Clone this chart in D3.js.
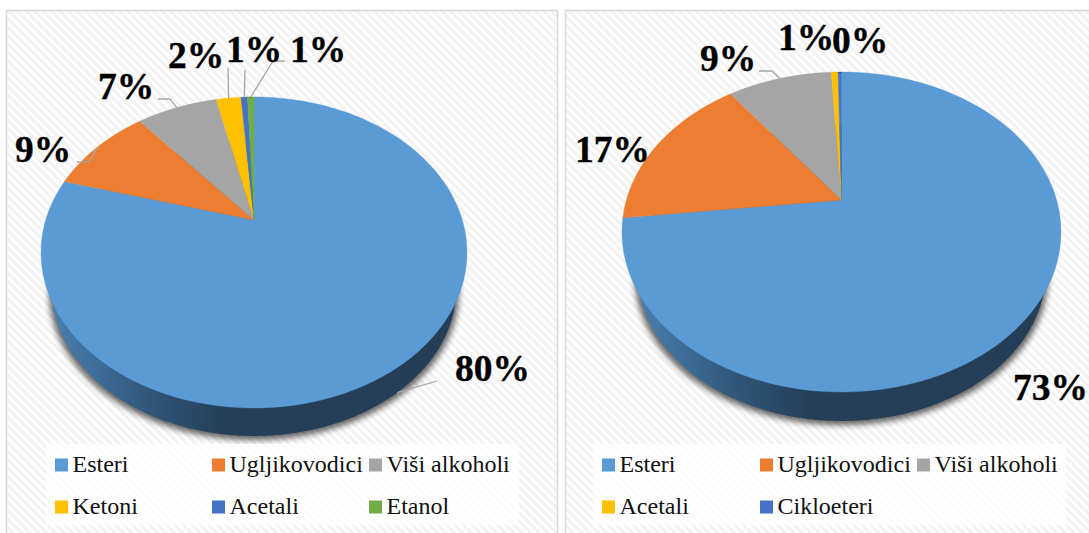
<!DOCTYPE html>
<html><head><meta charset="utf-8">
<style>html,body{margin:0;padding:0;background:#fff;overflow:hidden}svg{display:block}</style>
<script src="https://cdn.jsdelivr.net/npm/d3@7/dist/d3.min.js"></script>
</head><body><svg id="c" width="1089" height="533"></svg>
<script>
// ---- data ----
const leftCategories  = ["Esteri","Ugljikovodici","Viši alkoholi","Ketoni","Acetali","Etanol"];
const leftValues      = [79.4, 9.6, 7.5, 2.3, 0.6, 0.6];
const leftLabels      = ["80%","9%","7%","2%","1%","1%"];
const rightCategories = ["Esteri","Ugljikovodici","Viši alkoholi","Acetali","Cikloeteri"];
const rightValues     = [73.2, 16.6, 9.3, 0.6, 0.3];
const rightLabels     = ["73%","17%","9%","1%","0%"];
const leftColors  = ["#5b9bd5","#ed7d31","#a5a5a5","#ffc000","#4472c4","#70ad47"];
const rightColors = ["#5b9bd5","#ed7d31","#a5a5a5","#ffc000","#4472c4"];

// ---- layout ----
const leftLayout = {
  frame:{x:6.5,y:10.5,w:551,h:540},
  cx:254, apexY:220, top:97, bottom:408, halfW:213, wallBottom:436, wallScale:.95,
  legend:{x:46,y:444,w:473,h:81, colX:[55,212,369], rowY:[465,507]},
  labelPos:[[455,381],[15,162],[98,99],[168,68],[226,62],[290,62]],
  leaders:[[[437,381]],[[77,162],[89,162]],[[158,99],[170,99]],[[228,68]],[[245,70]],[[285,61],[273,61]]]
};
const rightLayout = {
  frame:{x:565.5,y:10.5,w:540,h:540},
  cx:841.5, apexY:200, top:72, bottom:392, halfW:219.5, wallBottom:421, wallScale:.93,
  legend:{x:593,y:444,w:473,h:81, colX:[602,760,917], rowY:[465,507]},
  labelPos:[[1013,400],[575,162],[700,71],[778,50],[832,53]],
  leaders:[null,null,[[759,71],[772,71]],null,null]
};

const svg = d3.select("#c");
const defs = svg.append("defs");
const hatch = defs.append("pattern").attr("id","hatch").attr("width",6).attr("height",6)
  .attr("patternUnits","userSpaceOnUse").attr("patternTransform","rotate(45)");
hatch.append("rect").attr("width",6).attr("height",6).attr("fill","#ffffff");
hatch.append("rect").attr("width",6).attr("height",3).attr("fill","#f3f3f3");
defs.append("filter").attr("id","blur").attr("x","-10%").attr("y","-10%").attr("width","120%").attr("height","120%")
  .append("feGaussianBlur").attr("stdDeviation",3);

function drawPanel(id, cats, vals, labels, colors, L){
  const g = svg.append("g");
  g.append("rect").attr("x",L.frame.x).attr("y",L.frame.y).attr("width",L.frame.w).attr("height",L.frame.h)
    .attr("fill","url(#hatch)").attr("stroke","#d9d9d9").attr("stroke-width",1.6);

  // perspective disc: unit circle -> ellipse whose centre is the slices' apex
  const K = -(L.top+L.bottom-2*L.apexY)/(L.bottom-L.top);
  const A = L.bottom*(1+K) - L.apexY;
  const D = L.halfW*Math.sqrt(1-K*K);
  const project = a => {
    const u = Math.sin(a), v = -Math.cos(a), w = 1+K*v;
    return [L.cx + D*u/w, (A*v + L.apexY)/w];
  };
  const line = d3.line();
  const arcs = d3.pie().value(d=>d).sort(null)(vals);
  const sweep = (a0,a1) => d3.range(0,121).map(i=>project(a0+(a1-a0)*i/120));

  // lower rim: the same ellipse, a little smaller, further down
  const midY = (L.top+L.bottom)/2, semiB = (L.bottom-L.top)/2;
  const rimY0 = L.wallBottom - semiB*L.wallScale;
  const toRim = p => [L.cx+(p[0]-L.cx)*L.wallScale, rimY0+(p[1]-midY)*L.wallScale];
  const full = sweep(0,2*Math.PI);
  const rim = full.map(toRim);
  const xL = d3.min(rim,p=>p[0]), xR = d3.max(rim,p=>p[0]);
  g.append("path").attr("d",line(rim.map(p=>[L.cx+(p[0]-L.cx)*1.012,p[1]+4]))+"Z")
    .attr("fill","#000").attr("opacity",.62).attr("filter","url(#blur)");
  const grad = defs.append("linearGradient").attr("id","wall"+id).attr("gradientUnits","userSpaceOnUse")
    .attr("x1",xL).attr("x2",xR).attr("y1",0).attr("y2",0);
  [[0,"#4a7fae"],[.1,"#3f6f9b"],[.25,"#2f5578"],[.42,"#253f58"],[1,"#243e57"]]
    .forEach(s=>grad.append("stop").attr("offset",s[0]).attr("stop-color",s[1]));
  g.append("path").attr("d",line(rim)+"Z").attr("fill",`url(#wall${id})`);

  // slices
  g.selectAll("path.slice").data(arcs).join("path").attr("class","slice")
    .attr("d",d=>line([[L.cx,L.apexY],...sweep(d.startAngle,d.endAngle)])+"Z")
    .attr("fill",(d,i)=>colors[i]).attr("stroke",(d,i)=>colors[i]).attr("stroke-width",.4);

  // leaders
  arcs.forEach((d,i)=>{
    if(!L.leaders[i]) return;
    let p = project((d.startAngle+d.endAngle)/2);
    if(i===0) p = toRim(p);
    g.append("path").attr("d",line([...L.leaders[i],p])).attr("fill","none")
      .attr("stroke","#a6a6a6").attr("stroke-width",1.3);
  });

  // value labels
  g.selectAll("text.val").data(labels).join("text").attr("class","val")
    .attr("x",(d,i)=>L.labelPos[i][0]).attr("y",(d,i)=>L.labelPos[i][1])
    .attr("font-family","'Liberation Serif',serif").attr("font-weight",700).attr("font-size",37.5)
    .attr("fill","#000").attr("stroke","#000").attr("stroke-width",.35).text(d=>d);

  // legend
  g.append("rect").attr("x",L.legend.x).attr("y",L.legend.y).attr("width",L.legend.w).attr("height",L.legend.h)
    .attr("fill","#fff").attr("opacity",.72);
  cats.forEach((name,i)=>{
    const x = L.legend.colX[i%3], y = L.legend.rowY[Math.floor(i/3)];
    g.append("rect").attr("x",x).attr("y",y-6.5).attr("width",13).attr("height",13).attr("fill",colors[i]);
    g.append("text").attr("x",x+17.5).attr("y",y+7).attr("font-family","'Liberation Serif',serif")
      .attr("font-size",24).attr("fill","#111").text(name);
  });
}
drawPanel("L",leftCategories,leftValues,leftLabels,leftColors,leftLayout);
drawPanel("R",rightCategories,rightValues,rightLabels,rightColors,rightLayout);
</script></body></html>
